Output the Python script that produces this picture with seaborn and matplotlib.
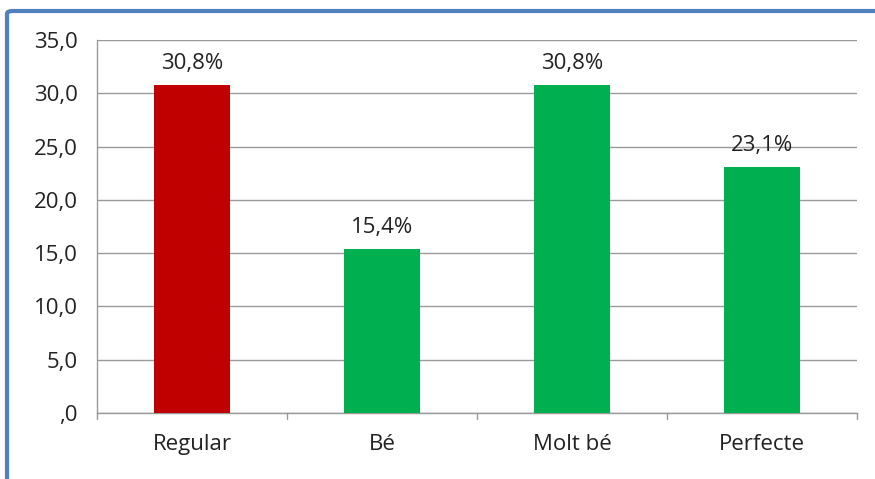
import pandas as pd
import matplotlib
matplotlib.use('Agg')
import matplotlib.pyplot as plt
import seaborn as sns
from matplotlib.patches import FancyBboxPatch

# Data
categories = ['Regular', 'Bé', 'Molt bé', 'Perfecte']
values = [30.8, 15.4, 30.8, 23.1]
bar_colors = ['#C00000', '#00B050', '#00B050', '#00B050']
yticks = [0, 5, 10, 15, 20, 25, 30, 35]

df = pd.DataFrame({'Categoria': categories, 'Percentatge': values})

sns.set_style('white')
plt.rcParams['font.family'] = ['Open Sans', 'DejaVu Sans']

fig = plt.figure(figsize=(8.75, 4.79), dpi=100)
ax = fig.add_axes([0.1109, 0.1378, 0.8685, 0.7787])

sns.barplot(x='Categoria', y='Percentatge', data=df, hue='Categoria',
            palette=bar_colors, width=0.4, saturation=1, legend=False,
            linewidth=0, ax=ax, zorder=3)

# Value labels above each bar
for i, v in enumerate(values):
    ax.text(i, v + 1.0, f"{v:.1f}%".replace('.', ','), ha='center', va='bottom',
            fontsize=16, color='#222222')

ax.set_ylim(0, 35)
ax.set_xlim(-0.5, 3.5)
ax.set_yticks(yticks)
ax.set_yticklabels([(f"{t:.1f}".replace('.', ',') if t else ',0') for t in yticks],
                   fontsize=16, color='#222222')
ax.tick_params(axis='x', labelsize=16, colors='#222222', length=0, pad=15)
ax.tick_params(axis='y', length=7, width=1, color='#999999', direction='out', pad=7)
ax.set_xlabel('')
ax.set_ylabel('')

# Gridlines
ax.yaxis.grid(True, color='#999999', linewidth=1)
ax.set_axisbelow(True)

# Category separator ticks on the x axis
for xb in [-0.5, 0.5, 1.5, 2.5, 3.5]:
    ax.plot([xb, xb], [0, -0.6], color='#999999', lw=1, clip_on=False)

for side in ['top', 'right']:
    ax.spines[side].set_visible(False)
for side in ['left', 'bottom']:
    ax.spines[side].set_color('#999999')
    ax.spines[side].set_linewidth(1)

# Blue frame of the screenshot (top and left edges)
frame = FancyBboxPatch((7 / 875, -0.1), 1.2, (479 - 11) / 479 + 0.1,
                       boxstyle='round,pad=0,rounding_size=0.006',
                       transform=fig.transFigure, fill=False,
                       edgecolor='#4F81BD', linewidth=3, clip_on=False)
fig.patches.append(frame)

fig.savefig('out.png', dpi=100)
